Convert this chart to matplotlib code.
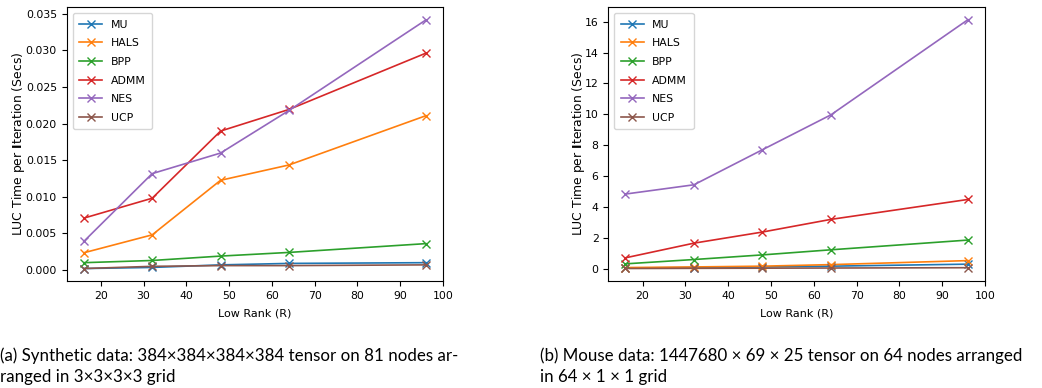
import matplotlib
matplotlib.use("Agg")
import matplotlib.pyplot as plt

ranks = [16, 32, 48, 64, 96]
methods = ['MU', 'HALS', 'BPP', 'ADMM', 'NES', 'UCP']

# (a) synthetic data, seconds per iteration
synth_mu = [0.0002, 0.00035, 0.0007, 0.0009, 0.0010]
synth_hals = [0.00235, 0.0048, 0.01225, 0.01434, 0.02106]
synth_bpp = [0.0010, 0.0013, 0.0019, 0.0024, 0.0036]
synth_admm = [0.00708, 0.0098, 0.01897, 0.02192, 0.0296]
synth_nes = [0.0039, 0.01316, 0.01597, 0.02178, 0.03413]
synth_ucp = [0.0002, 0.0005, 0.0006, 0.0006, 0.0007]

# (b) mouse data, seconds per iteration
mouse_mu = [0.05, 0.08, 0.12, 0.17, 0.30]
mouse_hals = [0.08, 0.12, 0.17, 0.27, 0.53]
mouse_bpp = [0.32, 0.60, 0.90, 1.23, 1.86]
mouse_admm = [0.71, 1.66, 2.38, 3.20, 4.49]
mouse_nes = [4.84, 5.44, 7.71, 9.97, 16.13]
mouse_ucp = [0.02, 0.03, 0.04, 0.05, 0.07]

caption_a = ["(a) Synthetic data: 384×384×384×384 tensor on 81 nodes ar-",
             "ranged in 3×3×3×3 grid"]
caption_b = ["(b) Mouse data: 1447680 × 69 × 25 tensor on 64 nodes arranged",
             "in 64 × 1 × 1 grid"]

FS = 7.8


def draw_panel(ax, series):
    for name, vals in zip(methods, series):
        ax.plot(ranks, vals, marker='x', lw=1.2, ms=5.5, mew=1.0, label=name)
    ax.set_xticks([20, 30, 40, 50, 60, 70, 80, 90, 100])
    ax.set_xlim(12, 100)
    ax.tick_params(labelsize=FS, width=0.8, length=3.5)
    ax.set_xlabel('Low Rank (R)', fontsize=8.0, labelpad=5.5)
    ax.set_ylabel(r'LUC Time per $\mathbf{I}$teration (Secs)', fontsize=8.9, labelpad=-1.3)
    for s in ax.spines.values():
        s.set_linewidth(0.8)
    ax.legend(loc='upper left', fontsize=FS, handlelength=2.1, borderpad=0.6,
              labelspacing=0.8, borderaxespad=0.55)


fig = plt.figure(figsize=(10.42, 3.88), dpi=100)
ax1 = fig.add_axes([0.064, 0.2758, 0.361, 0.706])
ax2 = fig.add_axes([0.5838, 0.2758, 0.3615, 0.706])

draw_panel(ax1, [synth_mu, synth_hals, synth_bpp, synth_admm, synth_nes, synth_ucp])
ax1.set_ylim(-0.0015, 0.0359)
ax1.set_yticks([0, 0.005, 0.010, 0.015, 0.020, 0.025, 0.030, 0.035])
ax1.yaxis.set_major_formatter(matplotlib.ticker.FormatStrFormatter('%.3f'))

draw_panel(ax2, [mouse_mu, mouse_hals, mouse_bpp, mouse_admm, mouse_nes, mouse_ucp])
ax2.set_ylim(-0.79, 16.95)
ax2.set_yticks([0, 2, 4, 6, 8, 10, 12, 14, 16])

cap_font = dict(family=['Lato', 'DejaVu Sans'], fontsize=12.2, va='baseline', ha='left')
fig.text(0.0, 1 - 361 / 388, caption_a[0], **cap_font)
fig.text(0.0, 1 - 382 / 388, caption_a[1], **cap_font)
fig.text(540 / 1042, 1 - 361 / 388, caption_b[0], **cap_font)
fig.text(540 / 1042, 1 - 382 / 388, caption_b[1], **cap_font)

fig.savefig('out.png', dpi=100)
